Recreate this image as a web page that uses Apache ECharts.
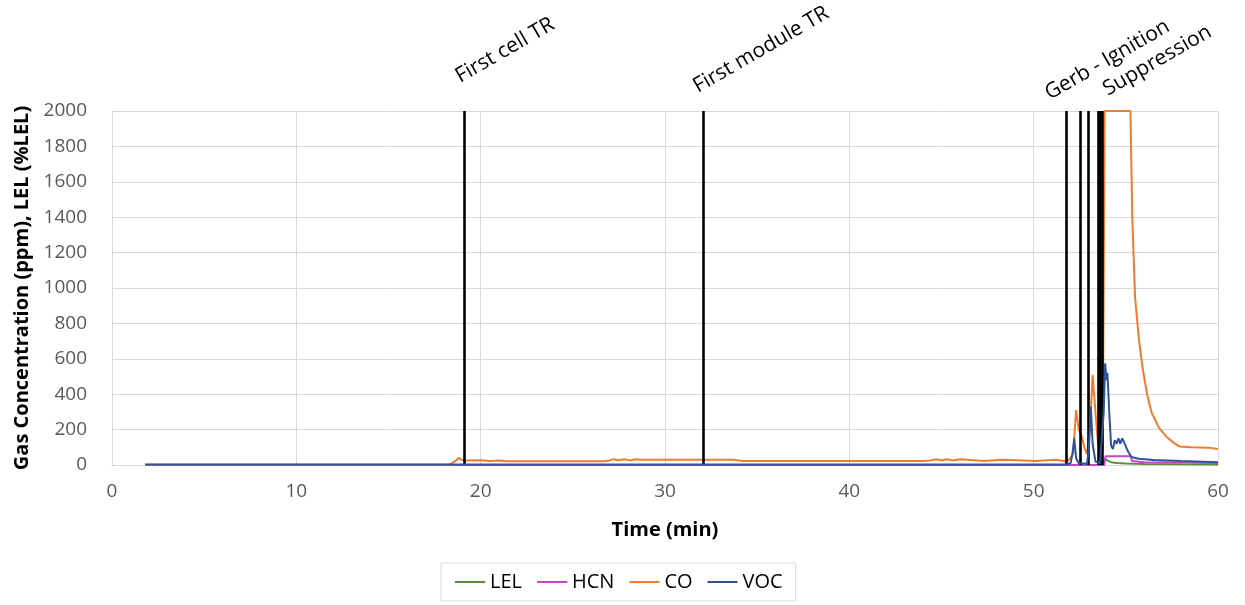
<!DOCTYPE html>
<html><head><meta charset="utf-8">
<script src="https://cdn.jsdelivr.net/npm/echarts@6/dist/echarts.min.js"></script>
<style>html,body{margin:0;padding:0;background:#fff}#c{width:1245px;height:605px}</style>
</head><body><div id="c"></div>
<script>
// ---- data (time in minutes, value in ppm / %LEL) ----
const seriesNames = ['LEL', 'HCN', 'CO', 'VOC'];
const lelData = [[1.8,0],[53.8,0],[53.87,35],[54.0,26],[54.2,16],[54.5,11],[55,8],[56,6],[58,4],[60,3]];
const hcnData = [[1.8,0],[53.82,0],[53.9,50],[55.25,50],[55.35,22],[56,16],[58,14],[60,12]];
const coData = [[1.8,1],[18.3,2],[18.6,20],[18.8,40],[19.0,28],[19.2,25],[20.0,27],[20.5,23],[21.0,26],[21.4,21],[26.7,21],[26.8,32],[27.0,26],[27.2,33],[27.5,27],[27.8,33],[28.1,26],[28.4,32],[28.7,30],[33.7,30],[33.8,21],[34.0,26],[34.3,22],[40.5,22],[40.6,28],[40.7,22],[44.0,22],[44.1,32],[44.4,26],[44.7,33],[45.0,27],[45.3,33],[45.6,26],[46.0,32],[46.1,22],[47.3,22],[47.4,30],[48.3,30],[48.4,22],[48.8,28],[48.9,22],[50.1,22],[50.2,30],[51.2,30],[51.3,22],[51.8,20],[52.0,40],[52.15,70],[52.3,310],[52.45,200],[52.6,165],[52.75,100],[52.9,60],[53.05,200],[53.2,510],[53.35,300],[53.5,110],[53.75,90],[53.85,2000],[55.25,2000],[55.35,1400],[55.5,950],[55.7,720],[55.9,555],[56.15,400],[56.4,295],[56.8,210],[57.2,160],[57.6,125],[57.9,105],[58.5,100],[59.5,98],[59.6,90],[60,90]];
const vocData = [[1.8,3],[51.8,3],[52.0,10],[52.1,60],[52.2,150],[52.3,40],[52.45,10],[52.9,8],[53.0,100],[53.1,330],[53.2,120],[53.35,20],[53.6,10],[53.8,300],[53.88,575],[53.95,480],[54.0,520],[54.1,300],[54.2,110],[54.3,90],[54.4,140],[54.5,120],[54.6,150],[54.7,120],[54.8,150],[54.9,130],[55.0,140],[55.1,80],[55.3,45],[55.7,35],[56.5,28],[58,22],[60,16]];
const eventTimes = [19.13, 32.08, 51.76, 52.5, 52.95, 53.5, 53.6, 53.7];
const eventLabels = ['First cell TR', 'First module TR', 'Gerb - Ignition', 'Suppression'];
const eventLabelTimes = [19.13, 32.08, 51.76, 53.6];
const xTicks = [0, 10, 20, 30, 40, 50, 60];
const yTicks = [0, 200, 400, 600, 800, 1000, 1200, 1400, 1600, 1800, 2000];

// ---- styles ----
const colors = ['#5B8F35', '#CC44CC', '#ED7D31', '#2F5597'];
const labelOffsets = [[-2,-24],[-3,-14],[-14,-7],[10,-11]];
const FONT = '"Open Sans", "Liberation Sans", sans-serif';

const chart = echarts.init(document.getElementById('c'));
const allData = [lelData, hcnData, coData, vocData];
const series = seriesNames.map((n, i) => ({
  name: n, type: 'line', data: allData[i], symbol: 'none', showSymbol: false,
  lineStyle: { color: colors[i], width: 2 }, itemStyle: { color: colors[i] },
  animation: false, z: 2 + i
}));
series.push({
  name: 'events', type: 'line', data: [], symbol: 'none', silent: true, z: 10,
  markLine: {
    silent: true, symbol: 'none', animation: false,
    label: { show: false },
    lineStyle: { color: '#000', width: 2.6, type: 'solid' },
    data: eventTimes.map(t => ({ xAxis: t }))
  }
});

chart.setOption({
  animation: false,
  grid: { left: 112, right: 27, top: 111, bottom: 140 },
  xAxis: {
    type: 'value', min: 0, max: 60, interval: 10,
    name: 'Time (min)', nameLocation: 'middle', nameGap: 55,
    nameTextStyle: { fontFamily: FONT, fontSize: 20, fontWeight: 'bold', color: '#000' },
    axisLine: { show: true, lineStyle: { color: '#d9d9d9', width: 1 } },
    axisTick: { show: false },
    axisLabel: { fontFamily: FONT, fontSize: 19, color: '#595959', margin: 17,
      formatter: v => xTicks.includes(v) ? String(v) : '' },
    splitLine: { show: true, lineStyle: { color: '#d9d9d9', width: 1 } }
  },
  yAxis: {
    type: 'value', min: 0, max: 2000, interval: 200,
    name: 'Gas Concentration (ppm), LEL (%LEL)', nameLocation: 'middle', nameGap: 78,
    nameTextStyle: { fontFamily: FONT, fontSize: 20, fontWeight: 'bold', color: '#000' },
    axisLine: { show: true, lineStyle: { color: '#d9d9d9', width: 1 } },
    axisTick: { show: false },
    axisLabel: { fontFamily: FONT, fontSize: 19, color: '#595959', margin: 25,
      formatter: v => yTicks.includes(v) ? String(v) : '' },
    splitLine: { show: true, lineStyle: { color: '#d9d9d9', width: 1 } }
  },
  legend: {
    data: seriesNames, left: 441, top: 563,
    padding: [9, 13, 9, 14], itemGap: 15, itemWidth: 30, itemHeight: 14,
    borderColor: '#d9d9d9', borderWidth: 1,
    textStyle: { fontFamily: FONT, fontSize: 20, color: '#000' },
    icon: 'path://M0,6 L30,6 L30,8 L0,8 Z'
  },
  series: series
});

const graphics = eventLabels.map((txt, i) => {
  const p = chart.convertToPixel({ xAxisIndex: 0, yAxisIndex: 0 }, [eventLabelTimes[i], 2000]);
  return {
    type: 'text', x: p[0] + labelOffsets[i][0], y: p[1] + labelOffsets[i][1],
    rotation: Math.PI / 6, silent: true,
    style: { text: txt, fontFamily: FONT, fontSize: 21, fill: '#000', align: 'left', verticalAlign: 'bottom' }
  };
});
chart.setOption({ graphic: graphics });
</script></body></html>
